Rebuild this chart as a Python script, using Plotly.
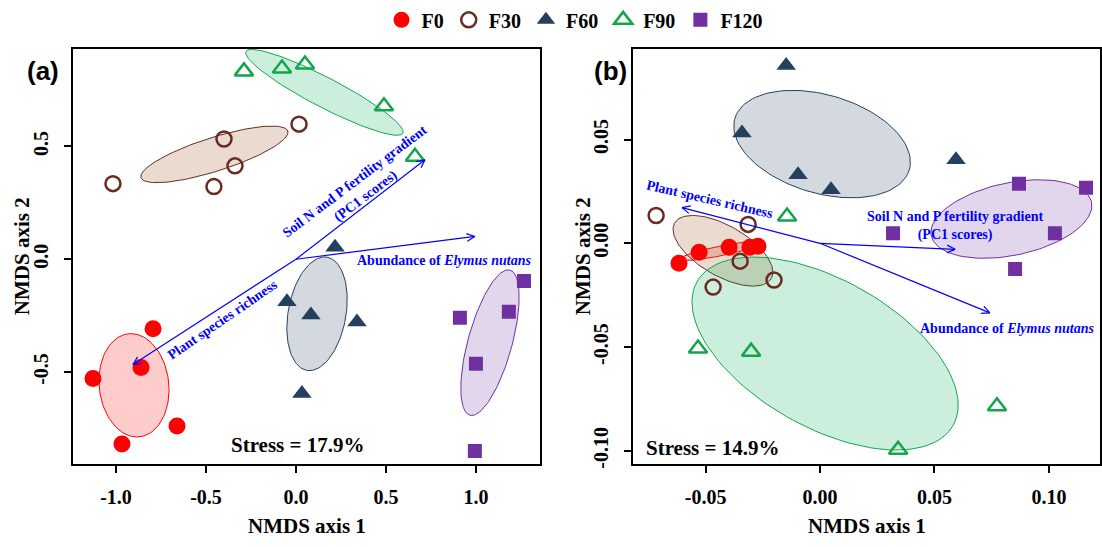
import numpy as np
import plotly.graph_objects as go

W, H = 1102, 547


def px_x(p):
    return p / W


def px_y(p):
    return (H - p) / H


groups = ["F0", "F30", "F60", "F90", "F120"]
colors = ["#FF0000", "#6B2A22", "#253F5E", "#12A64B", "#7030A0"]
symbols = ["circle", "circle-open", "triangle-up", "triangle-up-open", "square"]
sizes = [17, 15, 17, 16, 14]
fills = ["rgba(255,0,0,0.2)", "rgba(160,90,40,0.22)", "rgba(37,63,94,0.2)",
         "rgba(0,170,80,0.2)", "rgba(112,48,160,0.2)"]

# Panel (a) NMDS scores
a_x = {
    "F0": [-1.128, -0.967, -0.861, -0.794, -0.661],
    "F30": [-1.017, -0.400, -0.339, -0.456, 0.017],
    "F60": [-0.050, 0.083, 0.339, 0.033, 0.217],
    "F90": [-0.289, -0.078, 0.050, 0.489, 0.661],
    "F120": [0.911, 1.000, 1.183, 1.267, 0.994],
}
a_y = {
    "F0": [-0.529, -0.819, -0.480, -0.308, -0.740],
    "F30": [0.335, 0.533, 0.414, 0.322, 0.599],
    "F60": [-0.189, -0.247, -0.278, -0.595, 0.053],
    "F90": [0.833, 0.846, 0.863, 0.678, 0.454],
    "F120": [-0.260, -0.463, -0.233, -0.097, -0.850],
}
# ellipse params: cx, cy, ax, ay, bx, by (conjugate semi-axes, data units)
a_ell = {
    "F0": [-0.900, -0.559, -0.017, 0.229, 0.194, 0.000],
    "F30": [-0.453, 0.465, 0.408, 0.1035, 0.029, -0.071],
    "F60": [0.117, -0.242, 0.056, 0.251, 0.158, -0.022],
    "F90": [0.158, 0.740, 0.436, -0.181, -0.038, -0.0586],
    "F120": [1.078, -0.370, 0.111, 0.322, 0.118, -0.0256],
}
# Panel (b)
b_x = {
    "F0": [-0.0616, -0.0528, -0.0397, -0.0306, -0.0271],
    "F30": [-0.0716, -0.0314, -0.0349, -0.0467, -0.0201],
    "F60": [-0.0148, -0.0341, -0.0096, 0.0048, 0.0594],
    "F90": [-0.0144, -0.0533, -0.0301, 0.0341, 0.0773],
    "F120": [0.0869, 0.1162, 0.0319, 0.1026, 0.0852],
}
b_y = {
    "F0": [-0.0096, -0.0043, -0.0019, -0.0019, -0.0014],
    "F30": [0.0134, 0.0091, -0.0086, -0.0211, -0.0177],
    "F60": [0.0856, 0.0531, 0.0330, 0.0258, 0.0402],
    "F90": [0.0129, -0.0507, -0.0522, -0.0995, -0.0785],
    "F120": [0.0287, 0.0268, 0.0048, 0.0048, -0.0124],
}
b_ell = {
    "F0": [-0.0432, -0.0036, 0.0181, 0.0041, 0.0004, -0.0023],
    "F30": [-0.0424, -0.0036, 0.0211, -0.0134, -0.0055, -0.0105],
    "F60": [0.0009, 0.0478, 0.0381, -0.0124, -0.0061, -0.0227],
    "F90": [0.0022, -0.0531, 0.0559, -0.0347, -0.0160, -0.0309],
    "F120": [0.0836, 0.0117, 0.0350, 0.0081, 0.0033, -0.0171],
}

# Environmental fit arrows (tip coordinates, from origin)
a_vec_x = [0.717, 0.994, -0.906]
a_vec_y = [0.441, 0.101, -0.467]
b_vec_x = [0.0590, 0.0742, -0.0603]
b_vec_y = [-0.0029, -0.0335, 0.0172]

a_xr, a_yr = [-1.239, 1.356], [-0.907, 0.934]
b_xr, b_yr = [-0.0817, 0.1223], [-0.1062, 0.0938]
xdom_a = [px_x(73), px_x(540)]
xdom_b = [px_x(633), px_x(1100)]
ydom = [px_y(463), px_y(44)]

fig = go.Figure()

t = np.linspace(0, 2 * np.pi, 120)


def add_panel(px, py, ell, xa, ya, showleg):
    for g, f, c in zip(groups, fills, colors):
        cx, cy, ax_, ay_, bx_, by_ = ell[g]
        ex = cx + ax_ * np.cos(t) + bx_ * np.sin(t)
        ey = cy + ay_ * np.cos(t) + by_ * np.sin(t)
        fig.add_trace(go.Scatter(x=ex, y=ey, mode="lines", fill="toself", fillcolor=f,
                                 line=dict(color=c, width=1), hoverinfo="skip",
                                 showlegend=False, xaxis=xa, yaxis=ya))
    for g, c, s, sz in zip(groups, colors, symbols, sizes):
        fig.add_trace(go.Scatter(x=px[g], y=py[g], mode="markers", name=g,
                                 marker=dict(color=c, symbol=s, size=sz,
                                             line=dict(color=c, width=2.5 if "open" in s else 0)),
                                 showlegend=showleg, legendgroup=g, xaxis=xa, yaxis=ya))


add_panel(a_x, a_y, a_ell, "x", "y", True)
add_panel(b_x, b_y, b_ell, "x2", "y2", False)


def add_arrows(vx, vy, xr, yr, xdom, xa, ya):
    kx = (xdom[1] - xdom[0]) * W / (xr[1] - xr[0])
    ky = (ydom[1] - ydom[0]) * H / (yr[1] - yr[0])
    for x1, y1 in zip(vx, vy):
        dxp, dyp = x1 * kx, y1 * ky
        L = np.hypot(dxp, dyp)
        ux, uy = dxp / L, dyp / L
        hx, hy = [], []
        for ang in (0.45, -0.45):
            ca, sa = np.cos(ang), np.sin(ang)
            wx = -(ux * ca - uy * sa) * 9
            wy = -(ux * sa + uy * ca) * 9
            hx += [x1 + wx / kx, x1, None]
            hy += [y1 + wy / ky, y1, None]
        fig.add_trace(go.Scatter(x=[0, x1, None] + hx, y=[0, y1, None] + hy, mode="lines",
                                 line=dict(color="#0000FF", width=1.2), hoverinfo="skip",
                                 showlegend=False, xaxis=xa, yaxis=ya))


add_arrows(a_vec_x, a_vec_y, a_xr, a_yr, xdom_a, "x", "y")
add_arrows(b_vec_x, b_vec_y, b_xr, b_yr, xdom_b, "x2", "y2")

serif = "Liberation Serif"
blue_font = dict(family=serif, size=14, color="#0000FF", weight="bold")
stress_font = dict(family=serif, size=21, color="black", weight="bold")
ann = []
# panel (a) vector labels
ann.append(dict(x=0.356, y=0.313, xref="x", yref="y", text="Soil N and P fertility gradient<br>(PC1 scores)",
                textangle=-37, showarrow=False, font=blue_font))
ann.append(dict(x=0.328, y=-0.004, xref="x", yref="y", text="Abundance of <i>Elymus nutans</i>",
                xanchor="left", showarrow=False, font=blue_font))
ann.append(dict(x=-0.406, y=-0.269, xref="x", yref="y", text="Plant species richness",
                textangle=-34.5, showarrow=False, font=blue_font))
ann.append(dict(x=0.011, y=-0.824, xref="x", yref="y", text="Stress = 17.9%", showarrow=False,
                font=stress_font))
# panel (b)
ann.append(dict(x=-0.048, y=0.0211, xref="x2", yref="y2", text="Plant species richness",
                textangle=13, showarrow=False, font=blue_font))
ann.append(dict(x=0.059, y=0.0081, xref="x2", yref="y2", text="Soil N and P fertility gradient<br>(PC1 scores)",
                showarrow=False, font=blue_font))
ann.append(dict(x=0.0817, y=-0.0411, xref="x2", yref="y2", text="Abundance of <i>Elymus nutans</i>",
                showarrow=False, font=blue_font))
ann.append(dict(x=-0.0467, y=-0.0986, xref="x2", yref="y2", text="Stress = 14.9%", showarrow=False,
                font=stress_font))
# panel tags
for lab, xp in (("(a)", 43), ("(b)", 610)):
    ann.append(dict(x=px_x(xp), y=px_y(67), xref="paper", yref="paper", text=lab, showarrow=False,
                    xanchor="center", yanchor="middle",
                    font=dict(family="Liberation Sans", size=26, color="black", weight="bold")))
# axis titles
title_font = dict(family=serif, size=21, color="black", weight="bold")
for xd in (xdom_a, xdom_b):
    ann.append(dict(x=(xd[0] + xd[1]) / 2, y=px_y(526), xref="paper", yref="paper",
                    xanchor="center", yanchor="middle",
                    text="NMDS axis 1", showarrow=False, font=title_font))
for xp in (22, 583):
    ann.append(dict(x=px_x(xp), y=(ydom[0] + ydom[1]) / 2, xref="paper", yref="paper",
                    xanchor="center", yanchor="middle",
                    text="NMDS axis 2", textangle=-90, showarrow=False, font=title_font))

tick_font = dict(family=serif, size=20, color="black", weight="bold")
axis_common = dict(showgrid=False, zeroline=False, showline=True, linecolor="black", linewidth=2,
                   mirror=True, ticks="outside", ticklen=7, tickwidth=1.5, tickcolor="black",
                   tickfont=tick_font, automargin=False)

fig.update_layout(
    width=W, height=H, margin=dict(l=0, r=0, t=0, b=0),
    plot_bgcolor="white", paper_bgcolor="white",
    xaxis=dict(domain=xdom_a, range=a_xr, tickvals=[-1, -0.5, 0, 0.5, 1],
               ticktext=["-1.0", "-0.5", "0.0", "0.5", "1.0"], ticklabelstandoff=7, anchor="y", **axis_common),
    yaxis=dict(domain=ydom, range=a_yr, tickvals=[-0.5, 0, 0.5], ticktext=["-0.5", "0.0", "0.5"],
               tickangle=-90, ticklabelstandoff=8, anchor="x", **axis_common),
    xaxis2=dict(domain=xdom_b, range=b_xr, tickvals=[-0.05, 0, 0.05, 0.1],
                ticktext=["-0.05", "0.00", "0.05", "0.10"], ticklabelstandoff=7, anchor="y2", **axis_common),
    yaxis2=dict(domain=ydom, range=b_yr, tickvals=[-0.1, -0.05, 0, 0.05],
                ticktext=["-0.10", "-0.05", "0.00", "0.05"], tickangle=-90, ticklabelstandoff=8,
                anchor="x2", **axis_common),
    legend=dict(orientation="h", x=px_x(575), xanchor="center", y=px_y(15), yanchor="middle",
                font=dict(family=serif, size=20, color="black", weight="bold"),
                bgcolor="rgba(0,0,0,0)", tracegroupgap=0),
    annotations=ann,
)

fig.write_html("out.html", config={"displayModeBar": False},
               post_script="document.body.style.margin='0px';document.body.style.overflow='hidden';")
